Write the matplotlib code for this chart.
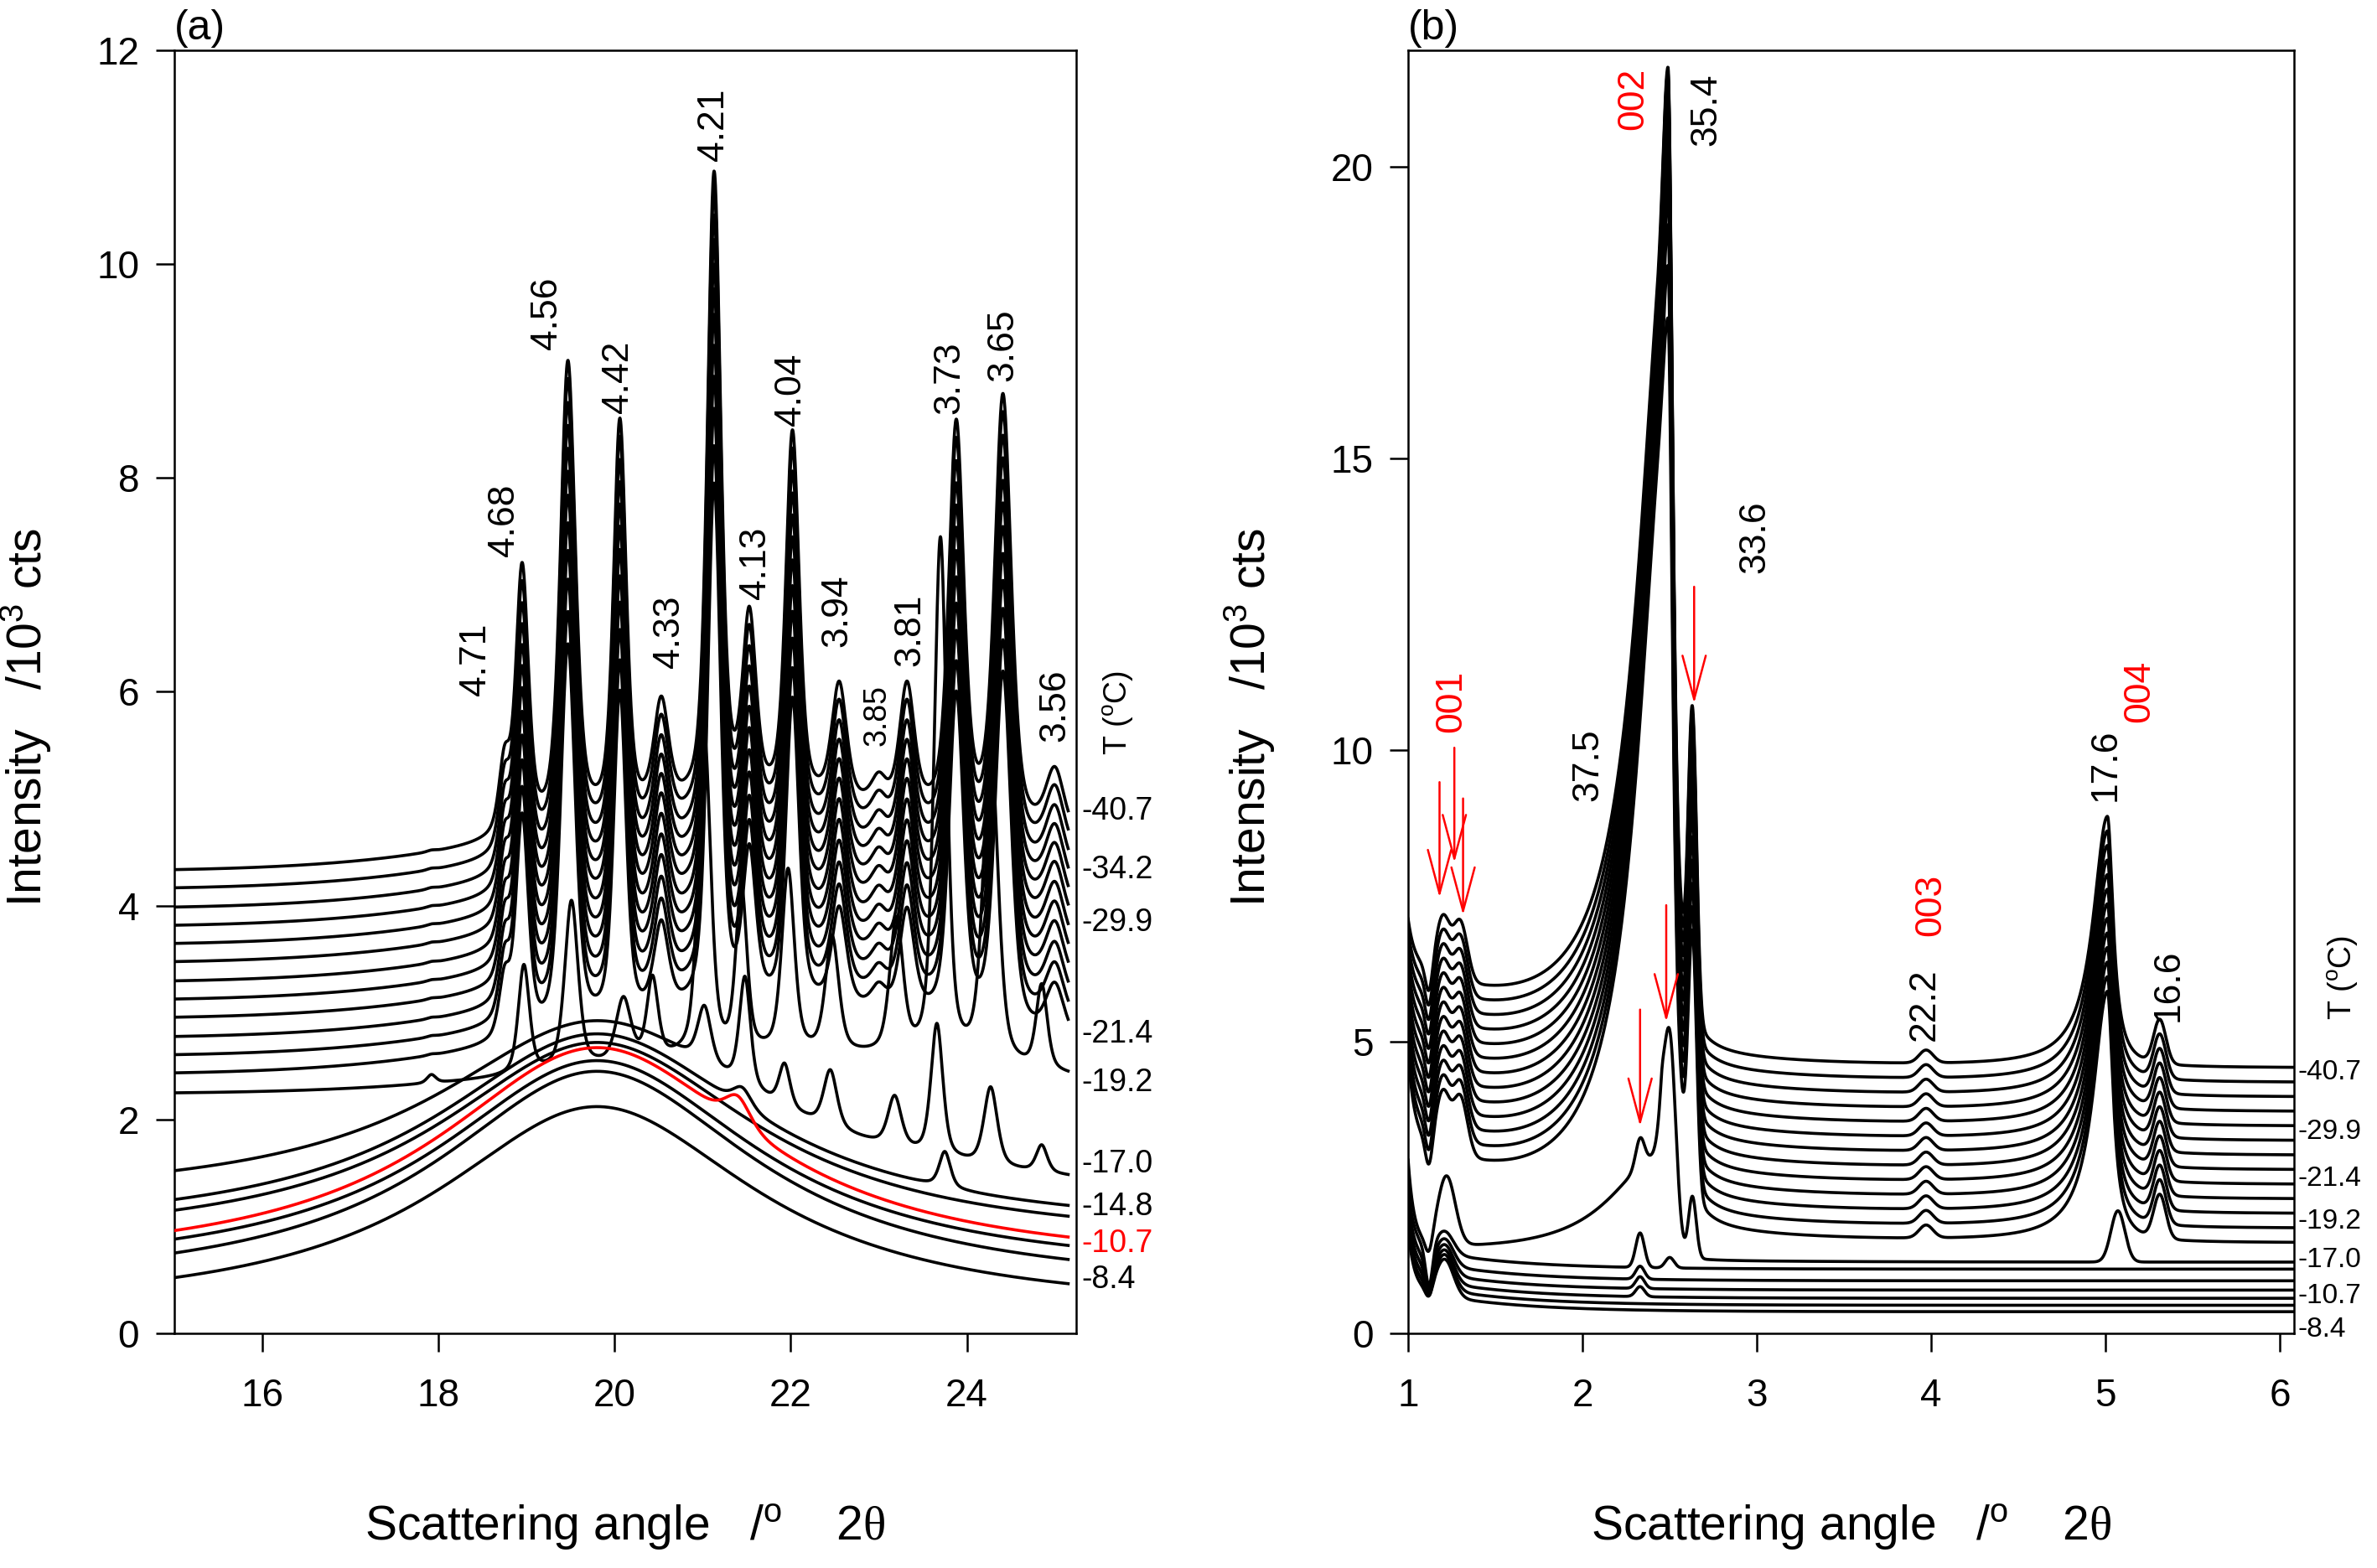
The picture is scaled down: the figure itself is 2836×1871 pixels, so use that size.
import numpy as np
import matplotlib
matplotlib.use("Agg")
import matplotlib.pyplot as plt
from matplotlib import font_manager
from matplotlib.transforms import blended_transform_factory

# ---------------- (a) wide-angle scans, 15-25 deg 2theta ----------------
# crystalline scans (-40.7 ... -21.4 C): level at 15 deg and relative peak strength
a_cryst_level = [4.32, 4.15, 3.97, 3.80, 3.63, 3.46, 3.28, 3.11, 2.94, 2.76, 2.59, 2.42]
a_cryst_gain = [1.00, 1.00, 0.99, 0.98, 0.97, 0.96, 0.95, 0.93, 0.91, 0.89, 0.86, 0.83]
a_cryst_hump = 0.6
# reflections of the coldest scan: centre, top (10^3 cts), fwhm
a_peak_pos = [17.92, 18.75, 18.95, 19.47, 20.06, 20.53, 21.13, 21.53, 22.02, 22.55, 23.00, 23.32, 23.88, 24.41, 25.00]
a_peak_top = [4.52, 5.50, 7.21, 9.10, 8.56, 5.96, 10.87, 6.80, 8.45, 6.10, 5.25, 6.10, 8.55, 8.79, 5.30]
a_peak_fwhm = [0.12, 0.15, 0.17, 0.20, 0.17, 0.20, 0.18, 0.18, 0.18, 0.20, 0.20, 0.20, 0.20, 0.22, 0.25]

# -19.2 C scan (shifted pattern)
a_m19_level = 2.24
a_m19_hump = 0.35
a_m19_pos = [17.92, 18.97, 19.51, 20.10, 20.43, 21.02, 21.44, 21.97, 22.47, 23.20, 23.70, 24.27, 24.85]
a_m19_top = [2.42, 3.45, 4.05, 3.15, 3.35, 5.60, 4.20, 4.35, 3.72, 3.90, 7.45, 5.52, 3.27]
a_m19_fwhm = [0.12, 0.15, 0.18, 0.20, 0.15, 0.17, 0.15, 0.17, 0.18, 0.18, 0.17, 0.20, 0.15]

# halo scans (-17.0 C and warmer): value at 15 deg and at the halo maximum
a_halo_edge = [1.52, 1.25, 1.15, 0.96, 0.88, 0.75, 0.52]
a_halo_top = [2.92, 2.80, 2.72, 2.67, 2.55, 2.45, 2.12]
a_red_scan = 3
# weak reflections on the halo scans: scan index, centre, top, fwhm
a_small_scan = [0, 0, 0, 0, 0, 0, 0, 0, 1, 1, 3]
a_small_pos = [21.02, 21.48, 21.93, 22.45, 23.18, 23.66, 24.27, 24.85, 21.45, 23.75, 21.40]
a_small_top = [3.05, 3.32, 2.50, 2.45, 2.20, 2.88, 2.29, 1.75, 2.30, 1.70, 2.22]
a_small_fwhm = [0.18, 0.15, 0.15, 0.18, 0.18, 0.16, 0.18, 0.15, 0.25, 0.15, 0.35]

a_dlabel_text = ['4.71', '4.68', '4.56', '4.42', '4.33', '4.21', '4.13', '4.04',
                 '3.94', '3.85', '3.81', '3.73', '3.65', '3.56']
a_dlabel_x = [18.42, 18.75, 19.23, 20.04, 20.62, 21.13, 21.60, 22.00, 22.53, 22.98, 23.36, 23.80, 24.41, 25.00]
a_dlabel_y = [6.30, 7.60, 9.54, 8.94, 6.56, 11.30, 7.20, 8.83, 6.76, 5.78, 6.58, 8.94, 9.24, 5.87]

a_temp_text = ['-40.7', '-34.2', '-29.9', '-21.4', '-19.2', '-17.0', '-14.8', '-10.7', '-8.4']
a_temp_y = [4.88, 4.33, 3.84, 2.80, 2.34, 1.58, 1.18, 0.84, 0.50]

# ---------------- (b) small-angle scans, 1-6 deg 2theta ----------------
b_cryst_level = [4.55, 4.30, 4.05, 3.80, 3.55, 3.30, 3.05, 2.80, 2.55, 2.30, 2.05, 1.80, 1.55]
b_cryst_beam = [0.7, 0.75, 0.8, 0.85, 0.9, 0.95, 1.0, 1.05, 1.1, 1.15, 1.2, 1.3, 1.4]
b_cryst_top002 = [21.7, 21.6, 21.5, 21.3, 21.1, 20.9, 20.6, 20.3, 19.9, 19.5, 19.0, 18.3, 17.4]
b_cryst_top263 = [10.75, 10.6, 10.4, 10.1, 9.8, 9.5, 9.2, 8.9, 8.5, 8.1, 7.7, 7.3, 6.9]
b_cryst_lowbg = 1.6
b_cryst_dip = 0.5
b_001_pos = [1.20, 1.30]
b_001_h = 1.0
b_002_broad = 14.2
b_004_h = 4.3
b_003_h = 0.22
b_166_h = 0.75

# -17.0 C scan
b_m17_level = 1.22
b_m17_pos = [1.22, 2.33, 2.50, 2.63, 5.07]
b_m17_top = [2.70, 3.35, 5.20, 2.35, 2.10]
b_m17_sig = [0.05, 0.025, 0.035, 0.022, 0.04]

# warmer (amorphous) scans
b_amor_level = [1.10, 0.90, 0.74, 0.60, 0.48, 0.37]
b_amor_dip = [0.7, 0.6, 0.5, 0.4, 0.3, 0.2]
b_amor_top001 = [1.75, 1.62, 1.52, 1.43, 1.35, 1.27]
b_small_scan = [0, 0, 1, 2, 3]
b_small_pos = [2.33, 2.50, 2.33, 2.33, 2.33]
b_small_top = [1.72, 1.30, 1.15, 0.97, 0.80]

b_label_text = ['001', '002', '003', '004', '37.5', '35.4', '33.6', '22.2', '17.6', '16.6']
b_label_x = [1.25, 2.29, 4.00, 5.195, 2.03, 2.71, 2.99, 3.96, 5.00, 5.36]
b_label_y = [10.83, 21.17, 7.35, 11.0, 9.75, 20.98, 13.65, 5.64, 9.75, 5.97]
b_label_red = [True, True, True, True, False, False, False, False, False, False]

b_arrow_x = [1.18, 1.265, 1.315, 2.33, 2.48, 2.64]
b_arrow_tail = [9.45, 10.04, 9.17, 5.55, 7.34, 12.8]
b_arrow_tip = [7.47, 8.07, 7.17, 3.55, 5.34, 10.8]

b_temp_text = ['-40.7', '-29.9', '-21.4', '-19.2', '-17.0', '-10.7', '-8.4']
b_temp_y = [4.48, 3.45, 2.65, 1.92, 1.26, 0.64, 0.07]

# ---------------- style ----------------
installed = {f.name for f in font_manager.fontManager.ttflist}
FONT = 'Liberation Sans' if 'Liberation Sans' in installed else 'DejaVu Sans'
SERIF = 'Liberation Serif' if 'Liberation Serif' in installed else 'DejaVu Serif'
plt.rcParams['font.family'] = [FONT, 'DejaVu Sans']
plt.rcParams['mathtext.fontset'] = 'custom'
plt.rcParams['mathtext.rm'] = FONT
plt.rcParams['mathtext.it'] = FONT + ':italic'
plt.rcParams['mathtext.sf'] = SERIF

LW = 2.6
FS_TICK = 33
FS_AXIS = 41
FS_PEAK = 32
FS_T = 27


def pvoigt(x, x0, fwhm, eta=0.5):
    u = (x - x0) / (fwhm / 2.0)
    return eta / (1.0 + u**2) + (1.0 - eta) * np.exp(-np.log(2.0) * u**2)


def gauss(x, x0, sig):
    return np.exp(-0.5 * ((x - x0) / sig)**2)


def split_lorentz(x, x0, wl, wr):
    w = np.where(x < x0, wl, wr)
    return 1.0 / (1.0 + ((x - x0) / w)**2)


def crystal_hump(x, amp):
    return amp * gauss(x, 22.0, 2.5)


def peak_heights(pos, top, fwhm, floor):
    pos = np.asarray(pos)
    fwhm = np.asarray(fwhm)
    m = pvoigt(pos[:, None], pos[None, :], fwhm[None, :])
    return np.linalg.solve(m, np.asarray(top) - floor)


def peak_sum(x, pos, fwhm, heights):
    return pvoigt(x[:, None], np.asarray(pos)[None, :], np.asarray(fwhm)[None, :]) @ heights


def halo(x, edge, top):
    shape = lambda t: 1.0 / (1.0 + ((t - 19.8) / 2.2)**2)
    amp = (top - edge) / (1.0 - shape(15.0))
    return top - amp + amp * shape(x)


def add_to_top(x, y, pos, top, sig):
    return y + (top - np.interp(pos, x, y)) * gauss(x, pos, sig)


def style_axes(ax):
    for s in ax.spines.values():
        s.set_linewidth(1.8)
    ax.tick_params(direction='out', length=16, width=1.8, labelsize=FS_TICK)
    ax.tick_params(axis='x', pad=22)
    ax.tick_params(axis='y', pad=14)


fig = plt.figure(figsize=(28.36, 18.71), dpi=100)
axa = fig.add_axes([0.0733, 0.1497, 0.3794, 0.8183])
axb = fig.add_axes([0.5924, 0.1497, 0.3727, 0.8183])

# ---------------- panel (a) ----------------
xa = np.linspace(15.0, 25.15, 2500)
pa = np.array(a_peak_pos)
h_main = peak_heights(a_peak_pos, a_peak_top, a_peak_fwhm,
                      a_cryst_level[0] + crystal_hump(pa, a_cryst_hump))
pattern = peak_sum(xa, a_peak_pos, a_peak_fwhm, h_main)
for lev, g in zip(a_cryst_level, a_cryst_gain):
    axa.plot(xa, lev + crystal_hump(xa, a_cryst_hump) + g * pattern, color='black', lw=LW)

p19 = np.array(a_m19_pos)
h19 = peak_heights(a_m19_pos, a_m19_top, a_m19_fwhm,
                   a_m19_level + crystal_hump(p19, a_m19_hump))
axa.plot(xa, a_m19_level + crystal_hump(xa, a_m19_hump) + peak_sum(xa, a_m19_pos, a_m19_fwhm, h19),
         color='black', lw=LW)

for i, (edge, top) in enumerate(zip(a_halo_edge, a_halo_top)):
    y = halo(xa, edge, top)
    for j, s in enumerate(a_small_scan):
        if s == i:
            p = a_small_pos[j]
            y = y + (a_small_top[j] - halo(p, edge, top)) * pvoigt(xa, p, a_small_fwhm[j])
    red = i == a_red_scan
    axa.plot(xa, y, color='red' if red else 'black', lw=LW, zorder=3 if red else 2)

axa.set_xlim(15, 25.24)
axa.set_ylim(0, 12)
axa.set_xticks([16, 18, 20, 22, 24])
axa.set_yticks([0, 2, 4, 6, 8, 10, 12])
style_axes(axa)

for t, x, y in zip(a_dlabel_text, a_dlabel_x, a_dlabel_y):
    axa.text(x, y, t, rotation=90, ha='center', va='center',
             fontsize=27 if t == '3.85' else FS_PEAK)

tra = blended_transform_factory(axa.transAxes, axa.transData)
for t, y in zip(a_temp_text, a_temp_y):
    axa.text(1.006, y, t, transform=tra, ha='left', va='center', fontsize=FS_T,
             color='red' if t == '-10.7' else 'black', clip_on=False)
axa.text(25.72, 5.8, r'T ($^{\mathrm{o}}$C)', rotation=90, ha='center', va='center',
         fontsize=FS_T, clip_on=False)

# ---------------- panel (b) ----------------
xb = np.linspace(1.0, 6.08, 3000)


def b_background(x, level, beam, lowbg, decay, dip):
    return (level + beam * np.exp(-(x - 1.0) / 0.035) + lowbg * np.exp(-(x - 1.0) / decay)
            - dip * gauss(x, 1.12, 0.02))


for k, lev in enumerate(b_cryst_level):
    y = b_background(xb, lev, b_cryst_beam[k], b_cryst_lowbg, 0.8, b_cryst_dip)
    y = y + b_002_broad * split_lorentz(xb, 2.49, 0.2, 0.035)
    for p in b_001_pos:
        y = y + b_001_h * gauss(xb, p, 0.04)
    y = add_to_top(xb, y, 2.49, b_cryst_top002[k], 0.025)
    y = add_to_top(xb, y, 2.63, b_cryst_top263[k], 0.024)
    y = y + b_003_h * gauss(xb, 3.97, 0.04)
    y = y + b_004_h * split_lorentz(xb, 5.01, 0.1, 0.04)
    y = y + b_166_h * gauss(xb, 5.31, 0.035)
    axb.plot(xb, y, color='black', lw=LW)

y = b_background(xb, b_m17_level, 1.45, 0.2, 0.8, 0.3)
y = y + 1.8 * split_lorentz(xb, 2.45, 0.35, 0.03)
for p, t, s in zip(b_m17_pos, b_m17_top, b_m17_sig):
    y = add_to_top(xb, y, p, t, s)
axb.plot(xb, y, color='black', lw=LW)

for i, lev in enumerate(b_amor_level):
    y = b_background(xb, lev, 1.0, 0.4, 0.5, b_amor_dip[i])
    y = add_to_top(xb, y, 1.21, b_amor_top001[i], 0.05)
    for j, s in enumerate(b_small_scan):
        if s == i:
            y = add_to_top(xb, y, b_small_pos[j], b_small_top[j], 0.025)
    axb.plot(xb, y, color='black', lw=LW)

axb.set_xlim(1, 6.08)
axb.set_ylim(0, 22)
axb.set_xticks([1, 2, 3, 4, 5, 6])
axb.set_yticks([0, 5, 10, 15, 20])
style_axes(axb)

for t, x, y, r in zip(b_label_text, b_label_x, b_label_y, b_label_red):
    axb.text(x, y, t, rotation=90, ha='center', va='center', fontsize=FS_PEAK,
             color='red' if r else 'black')

for x, yt, yh in zip(b_arrow_x, b_arrow_tail, b_arrow_tip):
    axb.annotate('', xy=(x, yh), xytext=(x, yt),
                 arrowprops=dict(arrowstyle='->,head_length=1.5,head_width=0.4', color='red',
                                 lw=1.8, shrinkA=0, shrinkB=0, mutation_scale=25),
                 zorder=5)

trb = blended_transform_factory(axb.transAxes, axb.transData)
for t, y in zip(b_temp_text, b_temp_y):
    axb.text(1.004, y, t, transform=trb, ha='left', va='center', fontsize=24, clip_on=False)
axb.text(6.36, 6.1, r'T ($^{\mathrm{o}}$C)', rotation=90, ha='center', va='center',
         fontsize=FS_T, clip_on=False)

# ---------------- axis labels ----------------
for ax, tag, ylx in ((axa, '(a)', -0.134), (axb, '(b)', -0.148)):
    ax.set_xlabel(r'Scattering angle   /$^{\mathrm{o}}$    2$\mathsf{\theta}$', fontsize=FS_AXIS)
    ax.set_ylabel(r'Intensity   /10$^{3}$ cts', fontsize=FS_AXIS)
    ax.xaxis.set_label_coords(0.5, -0.132)
    ax.yaxis.set_label_coords(ylx, 0.48)
    ax.text(0.0, 1.002, tag, transform=ax.transAxes, ha='left', va='bottom', fontsize=36)

fig.savefig('out.png', dpi=100)
